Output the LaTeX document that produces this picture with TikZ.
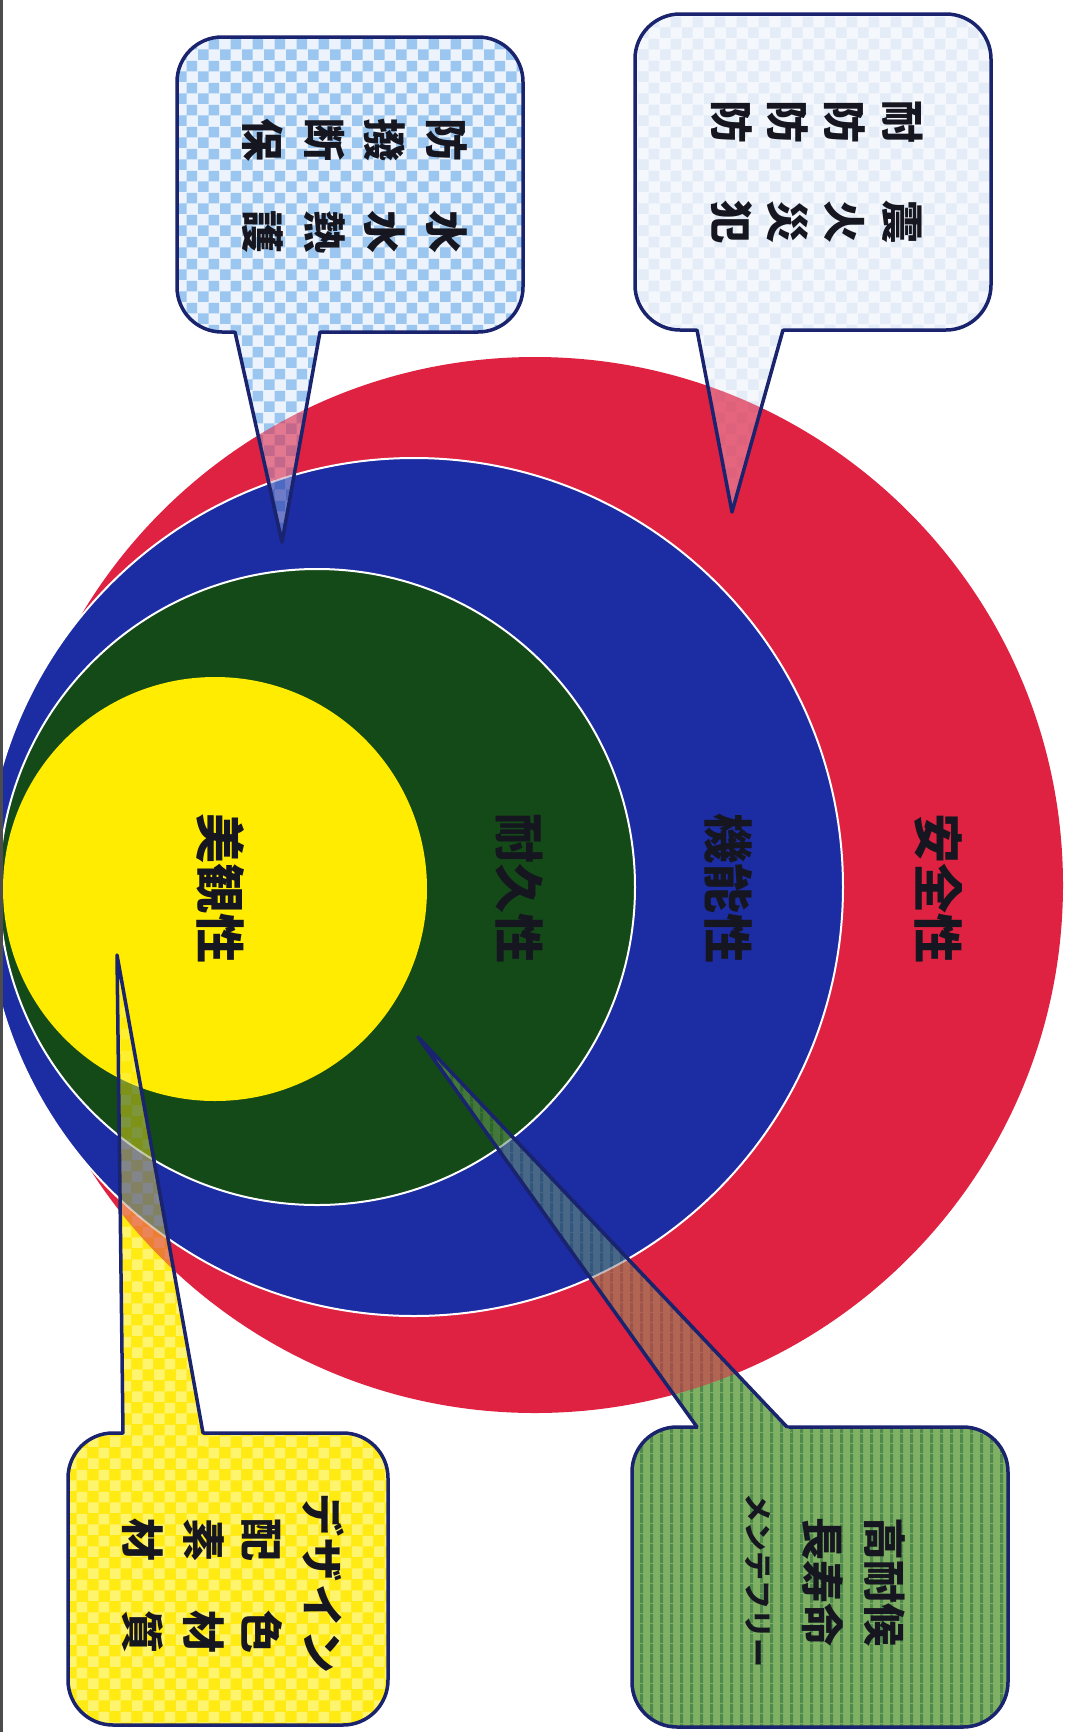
\documentclass[tikz,border=0pt]{standalone}
\usepackage{fontspec}
\newfontfamily\jp{Noto Sans CJK JP}
\usetikzlibrary{patterns}

\definecolor{navy}{RGB}{25,35,110}
\definecolor{crimsonA}{RGB}{224,34,66}
\definecolor{crimsonB}{RGB}{214,78,112}
\definecolor{crimson}{RGB}{222,40,72}
\definecolor{ringblue}{RGB}{28,44,162}
\definecolor{ringgreen}{RGB}{20,74,24}
\definecolor{ringyellow}{RGB}{255,236,0}
\definecolor{ink}{RGB}{22,22,32}
\definecolor{trbase}{RGB}{244,247,252}
\definecolor{trcheck}{RGB}{228,236,248}
\definecolor{tlbase}{RGB}{236,243,252}
\definecolor{tlcheck}{RGB}{155,198,240}
\definecolor{grbase}{RGB}{128,176,100}
\definecolor{grstripe}{RGB}{78,138,78}
\definecolor{yebase}{RGB}{255,234,20}
\definecolor{yecheck}{RGB}{255,244,110}

\pgfdeclareradialshading{redsh}{\pgfpoint{0bp}{0bp}}{color(0bp)=(crimsonA); color(36bp)=(crimsonA); color(50bp)=(crimsonB)}

\pgfdeclarepatternformonly{bigcheck}{\pgfpointorigin}{\pgfqpoint{22pt}{22pt}}{\pgfqpoint{22pt}{22pt}}{%
  \pgfpathrectangle{\pgfpointorigin}{\pgfqpoint{11pt}{11pt}}%
  \pgfpathrectangle{\pgfqpoint{11pt}{11pt}}{\pgfqpoint{11pt}{11pt}}%
  \pgfusepath{fill}}
\pgfdeclarepatternformonly{vstripes}{\pgfpointorigin}{\pgfqpoint{10pt}{10pt}}{\pgfqpoint{10pt}{10pt}}{%
  \pgfpathrectangle{\pgfpointorigin}{\pgfqpoint{3.5pt}{10pt}}%
  \pgfusepath{fill}}

\tikzset{
  outline/.style={draw=navy, line width=3.5pt, line join=round, line cap=round},
  sep/.style={draw=white, line width=2pt},
  circtext/.style={rotate=-90, font=\jp\bfseries\fontsize{50}{56}\selectfont, text=ink, inner sep=0pt},
  boxtext/.style={rotate=-90, font=\jp\bfseries\fontsize{43}{48}\selectfont, text=ink, inner sep=0pt},
  smalltext/.style={rotate=-90, font=\jp\bfseries\fontsize{29}{34}\selectfont, text=ink, inner sep=0pt},
}

% rings without overlaps, used inside the translucent pointers
\newcommand\myrings{%
  \fill[crimson, even odd rule] (535,885) circle[radius=528pt] (414,887) circle[radius=429pt];
  \fill[ringblue, even odd rule] (414,887) circle[radius=429pt] (317,887) circle[radius=318pt];
  \fill[ringgreen, even odd rule] (317,887) circle[radius=318pt] (215,889) circle[radius=212pt];
  \fill[ringyellow] (215,889) circle[radius=212pt];
  \draw[sep] (414,887) circle[radius=429pt];
  \draw[sep] (317,887) circle[radius=318pt];
}

% #1 base colour, #2 pattern, #3 pattern colour, #4 box corner 1, #5 box corner 2,
% #6 base left, #7 base right, #8 tip, #9 opacity of the rings seen through the pointer
\newcommand\mycallout[9]{%
  \fill[#1, rounded corners=45pt] #4 rectangle #5;
  \fill[pattern=#2, pattern color=#3, rounded corners=45pt] #4 rectangle #5;
  \draw[outline, rounded corners=45pt] #4 rectangle #5;
  \fill[#1] #8 -- ($#6!-0.03!#8$) -- ($#7!-0.03!#8$) -- cycle;
  \fill[pattern=#2, pattern color=#3] #8 -- ($#6!-0.03!#8$) -- ($#7!-0.03!#8$) -- cycle;
  \begin{scope}[opacity=#9]
    \clip #6 -- #7 -- #8 -- cycle;
    \myrings
  \end{scope}
  \draw[outline] #6 -- #8 -- #7;
}
\usetikzlibrary{calc}

\begin{document}
\begin{tikzpicture}[x=1pt,y=-1pt]
\useasboundingbox (0,0) rectangle (1072,1732);
\clip (0,0) rectangle (1072,1732);
\fill[white] (0,0) rectangle (1072,1732);

% nested rings
\shade[shading=redsh] (535,885) circle[radius=528pt];
\fill[ringblue] (414,887) circle[radius=429pt];
\draw[sep] (414,887) circle[radius=429pt];
\fill[ringgreen] (317,887) circle[radius=318pt];
\draw[sep] (317,887) circle[radius=318pt];
\fill[ringyellow] (215,889) circle[radius=212pt];

\node[circtext] (anzen)  at (939,888) {安全性};
\node[circtext] (kinou)  at (729,888) {機能性};
\node[circtext] (taikyu) at (519,888) {耐久性};
\node[circtext] (bikan)  at (221,888) {美観性};

% callout top right
\mycallout{trbase}{bigcheck}{trcheck}{(635,14)}{(991,330)}{(697,330)}{(783,330)}{(732,512)}{0.7}
\node[boxtext] (tr1) at (903,172) {\makebox[143pt]{耐\hfill 震}};
\node[boxtext] (tr2) at (845,172) {\makebox[143pt]{防\hfill 火}};
\node[boxtext] (tr3) at (788,172) {\makebox[143pt]{防\hfill 災}};
\node[boxtext] (tr4) at (732,172) {\makebox[143pt]{防\hfill 犯}};

% callout top left
\mycallout{tlbase}{bigcheck}{tlcheck}{(177,37)}{(523,332)}{(235,332)}{(320,332)}{(282,542)}{0.6}
\node[boxtext] (tl1) at (447,186) {\makebox[136pt]{防\hfill 水}};
\node[boxtext] (tl2) at (385,186) {\makebox[136pt]{撥\hfill 水}};
\node[boxtext] (tl3) at (325,186) {\makebox[136pt]{断\hfill 熱}};
\node[boxtext] (tl4) at (263,186) {\makebox[136pt]{保\hfill 護}};

% callout bottom right
\mycallout{grbase}{vstripes}{grstripe}{(632,1427)}{(1008,1727)}{(697,1427)}{(787,1427)}{(418,1037)}{0.55}
\node[boxtext] (br1) at (885,1582) {高耐候};
\node[boxtext] (br2) at (823,1582) {長寿命};
\node[smalltext] (br3) at (758,1580) {メンテフリー};

% callout bottom left
\mycallout{yebase}{bigcheck}{yecheck}{(68,1433)}{(388,1725)}{(123,1433)}{(203,1433)}{(117,955)}{0.55}
\node[boxtext] (bl1) at (323,1583) {\makebox[180pt]{デ\hfill ザ\hfill イ\hfill ン}};
\node[boxtext] (bl2) at (262,1586) {\makebox[135pt]{配\hfill 色}};
\node[boxtext] (bl3) at (204,1586) {\makebox[135pt]{素\hfill 材}};
\node[boxtext] (bl4) at (143,1586) {\makebox[135pt]{材\hfill 質}};

% scan edge line on the left
\draw[line width=3pt, black!70] (1.5,0) -- (1.5,1732);
\end{tikzpicture}
\end{document}
